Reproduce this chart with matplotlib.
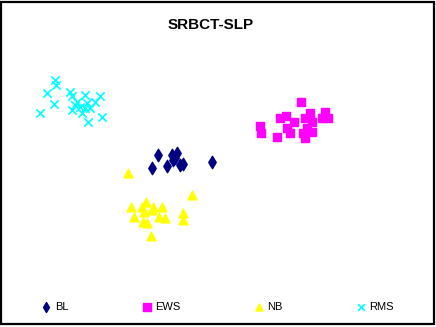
import matplotlib
matplotlib.use("Agg")
import matplotlib.pyplot as plt
from matplotlib.patches import Rectangle

plt.rcParams['font.family'] = ['Liberation Sans', 'DejaVu Sans']

# class scores (two projected components)
bl_x = [-3.1, -3.4, -2.65, -2.4, -2.15, -2.35, -2.0, -1.85, -0.4, -2.25]
bl_y = [0.25, -0.4, -0.3, 0.25, 0.35, 0.0, -0.25, -0.2, -0.1, 0.1]

ews_x = [4.05, 2.0, 2.05, 3.0, 3.3, 3.7, 3.35, 3.5, 2.85, 4.25, 4.5, 4.6, 4.35, 4.6, 4.25, 5.25, 5.4, 5.1, 4.15]
ews_y = [2.9, 1.7, 1.35, 2.1, 2.2, 1.9, 1.6, 1.35, 1.15, 2.1, 2.35, 1.9, 1.6, 1.4, 1.1, 2.4, 2.1, 2.1, 1.35]

nb_x = [-4.6, -1.4, -4.45, -3.7, -3.8, -4.3, -3.35, -3.4, -2.9, -3.05, -2.75, -3.85, -3.65, -1.85, -1.85, -3.45, -3.9]
nb_y = [-0.65, -1.75, -2.35, -2.1, -2.6, -2.85, -2.35, -2.5, -2.35, -2.85, -2.9, -3.1, -3.15, -2.65, -3.0, -3.8, -2.35]

rms_x = [-8.25, -8.2, -8.65, -8.3, -9.0, -7.5, -7.4, -6.75, -6.0, -7.15, -7.0, -6.65, -6.5, -6.25, -7.4, -6.9, -6.6, -5.9, -7.25, -6.75]
rms_y = [4.0, 3.75, 3.35, 2.8, 2.35, 3.4, 3.2, 3.25, 3.2, 2.9, 2.65, 2.85, 2.6, 2.9, 2.5, 2.35, 1.9, 2.15, 2.75, 2.6]

fig = plt.figure(figsize=(4.36, 3.27), dpi=100)
ax = fig.add_axes([0, 0, 1, 1])
ax.axis('off')

ax.scatter(bl_x, bl_y, marker='d', s=40, color='#000080', label='BL', zorder=3)
ax.scatter(ews_x, ews_y, marker='s', s=40, color='#FF00FF', label='EWS', zorder=3)
ax.scatter(nb_x, nb_y, marker='^', s=40, color='#FFFF00', label='NB', zorder=3)
ax.scatter(rms_x, rms_y, marker='x', s=36, linewidths=1.2, color='#00FFFF', label='RMS', zorder=3)

ax.set_xlim(-11, 10.8)
ax.set_ylim(-8.35, 8.0)

fig.text(211 / 436, 1 - 25 / 327, 'SRBCT-SLP', ha='center', va='center',
         fontsize=11, fontweight='bold')

fig.legend(loc='center', bbox_to_anchor=(0.5, 20 / 327), ncol=4, frameon=False,
           fontsize=8, handlelength=0.8, handletextpad=0.4, columnspacing=6.6,
           markerscale=0.8)

fig.patches.append(Rectangle((1 / 436, 3 / 327), 433 / 436, 322 / 327, fill=False,
                             edgecolor='black', linewidth=1.6,
                             transform=fig.transFigure, figure=fig))

fig.savefig('out.png', dpi=100)
